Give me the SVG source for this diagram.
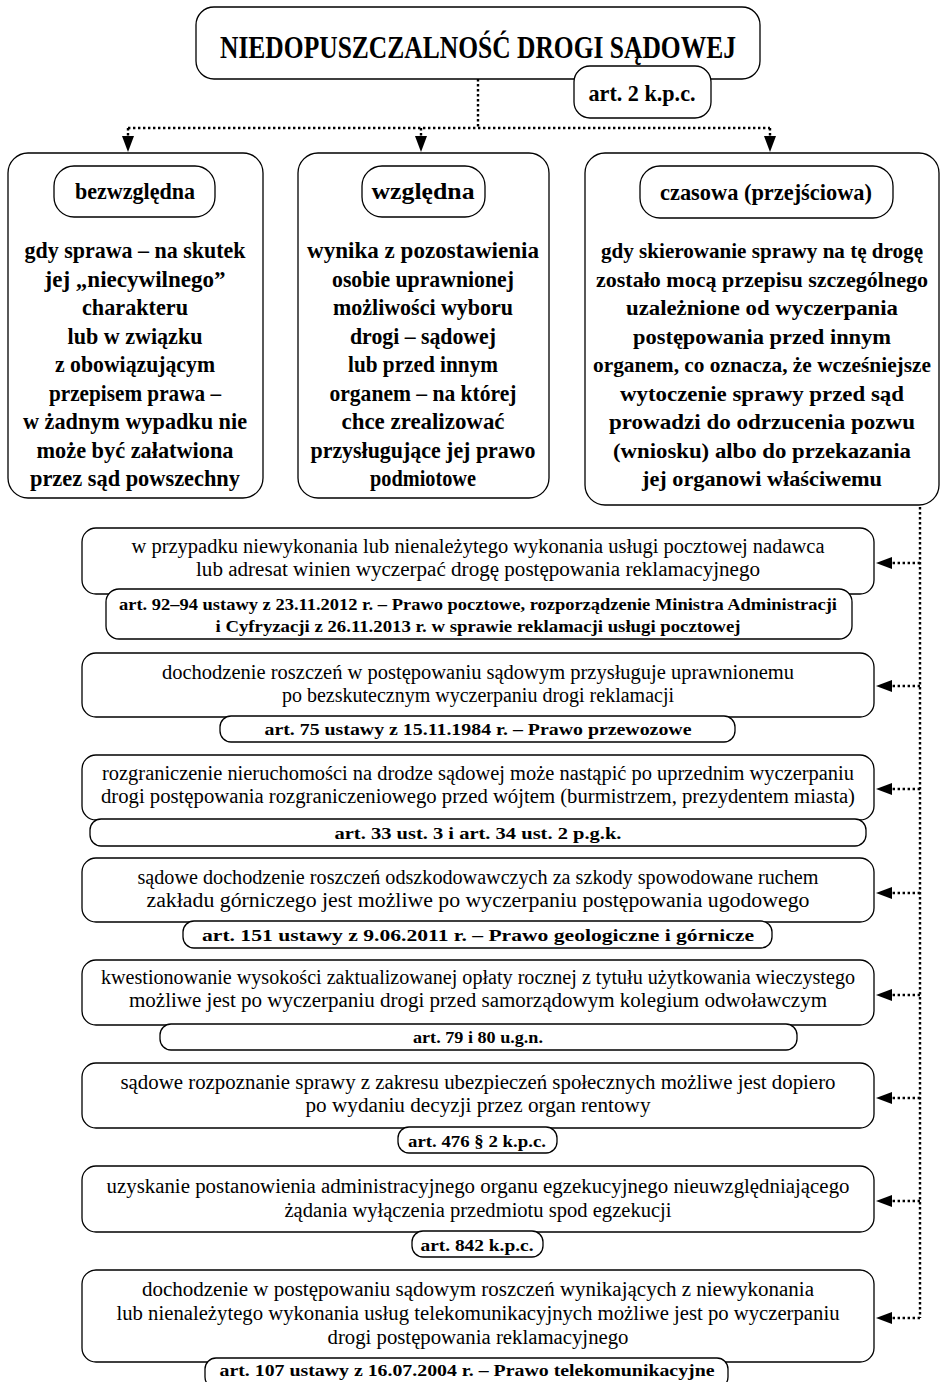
<svg xmlns="http://www.w3.org/2000/svg" width="942" height="1382" viewBox="0 0 942 1382">
<defs>
<style>
.box{fill:#fff;stroke:#000;stroke-width:1.3}
.dot{fill:none;stroke:#000;stroke-width:2.4;stroke-dasharray:2.4 2.6}
.t{font-family:"Liberation Serif",serif;fill:#000;text-anchor:middle}
.title{font-size:32px;font-weight:bold}
.h{font-size:23px;font-weight:bold}
.b{font-size:23px;font-weight:bold}
.bs{font-size:21px;font-weight:bold}
.n{font-size:20.5px}
.r{font-size:17.5px;font-weight:bold}
</style>
</defs>
<rect width="942" height="1382" fill="#fff"/>

<g id="connectors">
<path class="dot" d="M478,79 V128"/>
<path class="dot" d="M128,128 H770"/>
<path class="dot" d="M128,128 V136"/>
<path class="dot" d="M421,128 V136"/>
<path class="dot" d="M770,128 V136"/>
<path d="M122,136 L134,136 L128,152 Z"/>
<path d="M415,136 L427,136 L421,152 Z"/>
<path d="M764,136 L776,136 L770,152 Z"/>
<path class="dot" d="M920,507 V1318"/>
<path class="dot" d="M920,563 H892"/><path d="M892,557 L892,569 L876,563 Z"/>
<path class="dot" d="M920,686 H892"/><path d="M892,680 L892,692 L876,686 Z"/>
<path class="dot" d="M920,789 H892"/><path d="M892,783 L892,795 L876,789 Z"/>
<path class="dot" d="M920,893 H892"/><path d="M892,887 L892,899 L876,893 Z"/>
<path class="dot" d="M920,995 H892"/><path d="M892,989 L892,1001 L876,995 Z"/>
<path class="dot" d="M920,1098 H892"/><path d="M892,1092 L892,1104 L876,1098 Z"/>
<path class="dot" d="M920,1201 H892"/><path d="M892,1195 L892,1207 L876,1201 Z"/>
<path class="dot" d="M920,1318 H892"/><path d="M892,1312 L892,1324 L876,1318 Z"/>
</g>

<g id="title">
<rect class="box" x="196" y="7" width="564" height="72" rx="18"/>
<text class="t title" x="478" y="58" textLength="516" lengthAdjust="spacingAndGlyphs">NIEDOPUSZCZALNOŚĆ DROGI SĄDOWEJ</text>
</g>
<g id="art2">
<rect class="box" x="574" y="66" width="137" height="52" rx="16"/>
<text class="t h" x="642" y="101" textLength="107" lengthAdjust="spacingAndGlyphs">art. 2 k.p.c.</text>
</g>

<g id="bezwzgledna">
<rect class="box" x="8" y="153" width="255" height="345" rx="20"/>
<rect class="box" x="54" y="166" width="161" height="51" rx="20"/>
<text class="t h" x="135" y="199" textLength="120" lengthAdjust="spacingAndGlyphs">bezwzględna</text>
<text class="t b" x="135" y="258" textLength="221" lengthAdjust="spacingAndGlyphs">gdy sprawa – na skutek</text>
<text class="t b" x="135" y="286.5" textLength="181" lengthAdjust="spacingAndGlyphs">jej „niecywilnego”</text>
<text class="t b" x="135" y="315" textLength="106" lengthAdjust="spacingAndGlyphs">charakteru</text>
<text class="t b" x="135" y="343.5" textLength="135" lengthAdjust="spacingAndGlyphs">lub w związku</text>
<text class="t b" x="135" y="372" textLength="160" lengthAdjust="spacingAndGlyphs">z obowiązującym</text>
<text class="t b" x="135" y="400.5" textLength="172" lengthAdjust="spacingAndGlyphs">przepisem prawa –</text>
<text class="t b" x="135" y="429" textLength="224" lengthAdjust="spacingAndGlyphs">w żadnym wypadku nie</text>
<text class="t b" x="135" y="457.5" textLength="197" lengthAdjust="spacingAndGlyphs">może być załatwiona</text>
<text class="t b" x="135" y="486" textLength="210" lengthAdjust="spacingAndGlyphs">przez sąd powszechny</text>
</g>

<g id="wzgledna">
<rect class="box" x="298" y="153" width="251" height="345" rx="20"/>
<rect class="box" x="362" y="166" width="123" height="51" rx="20"/>
<text class="t h" x="423" y="199" textLength="103" lengthAdjust="spacingAndGlyphs">względna</text>
<text class="t b" x="423" y="258" textLength="232" lengthAdjust="spacingAndGlyphs">wynika z pozostawienia</text>
<text class="t b" x="423" y="286.5" textLength="182" lengthAdjust="spacingAndGlyphs">osobie uprawnionej</text>
<text class="t b" x="423" y="315" textLength="180" lengthAdjust="spacingAndGlyphs">możliwości wyboru</text>
<text class="t b" x="423" y="343.5" textLength="146" lengthAdjust="spacingAndGlyphs">drogi – sądowej</text>
<text class="t b" x="423" y="372" textLength="150" lengthAdjust="spacingAndGlyphs">lub przed innym</text>
<text class="t b" x="423" y="400.5" textLength="187" lengthAdjust="spacingAndGlyphs">organem – na której</text>
<text class="t b" x="423" y="429" textLength="163" lengthAdjust="spacingAndGlyphs">chce zrealizować</text>
<text class="t b" x="423" y="457.5" textLength="225" lengthAdjust="spacingAndGlyphs">przysługujące jej prawo</text>
<text class="t b" x="423" y="486" textLength="106" lengthAdjust="spacingAndGlyphs">podmiotowe</text>
</g>

<g id="czasowa">
<rect class="box" x="585" y="153" width="354" height="352" rx="20"/>
<rect class="box" x="640" y="166" width="253" height="52" rx="20"/>
<text class="t h" x="766" y="200" textLength="212" lengthAdjust="spacingAndGlyphs">czasowa (przejściowa)</text>
<text class="t bs" x="762" y="258" textLength="322" lengthAdjust="spacingAndGlyphs">gdy skierowanie sprawy na tę drogę</text>
<text class="t bs" x="762" y="286.5" textLength="332" lengthAdjust="spacingAndGlyphs">zostało mocą przepisu szczególnego</text>
<text class="t bs" x="762" y="315" textLength="272" lengthAdjust="spacingAndGlyphs">uzależnione od wyczerpania</text>
<text class="t bs" x="762" y="343.5" textLength="258" lengthAdjust="spacingAndGlyphs">postępowania przed innym</text>
<text class="t bs" x="762" y="372" textLength="338" lengthAdjust="spacingAndGlyphs">organem, co oznacza, że wcześniejsze</text>
<text class="t bs" x="762" y="400.5" textLength="284" lengthAdjust="spacingAndGlyphs">wytoczenie sprawy przed sąd</text>
<text class="t bs" x="762" y="429" textLength="306" lengthAdjust="spacingAndGlyphs">prowadzi do odrzucenia pozwu</text>
<text class="t bs" x="762" y="457.5" textLength="298" lengthAdjust="spacingAndGlyphs">(wniosku) albo do przekazania</text>
<text class="t bs" x="762" y="486" textLength="240" lengthAdjust="spacingAndGlyphs">jej organowi właściwemu</text>
</g>

<g id="c1">
<rect class="box" x="82" y="528" width="792" height="66" rx="14"/>
<text class="t n" x="478" y="553" textLength="693" lengthAdjust="spacingAndGlyphs">w przypadku niewykonania lub nienależytego wykonania usługi pocztowej nadawca</text>
<text class="t n" x="478" y="576" textLength="564" lengthAdjust="spacingAndGlyphs">lub adresat winien wyczerpać drogę postępowania reklamacyjnego</text>
<rect class="box" x="106" y="589" width="746" height="50" rx="13"/>
<text class="t r" x="478" y="610" textLength="718" lengthAdjust="spacingAndGlyphs">art. 92–94 ustawy z 23.11.2012 r. – Prawo pocztowe, rozporządzenie Ministra Administracji</text>
<text class="t r" x="478" y="632" textLength="525" lengthAdjust="spacingAndGlyphs">i Cyfryzacji z 26.11.2013 r. w sprawie reklamacji usługi pocztowej</text>
</g>

<g id="c2">
<rect class="box" x="82" y="653" width="792" height="64" rx="14"/>
<text class="t n" x="478" y="679" textLength="632" lengthAdjust="spacingAndGlyphs">dochodzenie roszczeń w postępowaniu sądowym przysługuje uprawnionemu</text>
<text class="t n" x="478" y="702" textLength="392" lengthAdjust="spacingAndGlyphs">po bezskutecznym wyczerpaniu drogi reklamacji</text>
<rect class="box" x="220" y="716" width="515" height="26" rx="11"/>
<text class="t r" x="478" y="735" textLength="427" lengthAdjust="spacingAndGlyphs">art. 75 ustawy z 15.11.1984 r. – Prawo przewozowe</text>
</g>

<g id="c3">
<rect class="box" x="82" y="755" width="792" height="65" rx="14"/>
<text class="t n" x="478" y="780" textLength="752" lengthAdjust="spacingAndGlyphs">rozgraniczenie nieruchomości na drodze sądowej może nastąpić po uprzednim wyczerpaniu</text>
<text class="t n" x="478" y="803" textLength="754" lengthAdjust="spacingAndGlyphs">drogi postępowania rozgraniczeniowego przed wójtem (burmistrzem, prezydentem miasta)</text>
<rect class="box" x="90" y="819" width="776" height="27" rx="11"/>
<text class="t r" x="478" y="839" textLength="287" lengthAdjust="spacingAndGlyphs">art. 33 ust. 3 i art. 34 ust. 2 p.g.k.</text>
</g>

<g id="c4">
<rect class="box" x="82" y="858" width="792" height="64" rx="14"/>
<text class="t n" x="478" y="884" textLength="681" lengthAdjust="spacingAndGlyphs">sądowe dochodzenie roszczeń odszkodowawczych za szkody spowodowane ruchem</text>
<text class="t n" x="478" y="907" textLength="663" lengthAdjust="spacingAndGlyphs">zakładu górniczego jest możliwe po wyczerpaniu postępowania ugodowego</text>
<rect class="box" x="183" y="921" width="589" height="27" rx="11"/>
<text class="t r" x="478" y="941" textLength="552" lengthAdjust="spacingAndGlyphs">art. 151 ustawy z 9.06.2011 r. – Prawo geologiczne i górnicze</text>
</g>

<g id="c5">
<rect class="box" x="82" y="960" width="792" height="65" rx="14"/>
<text class="t n" x="478" y="984" textLength="754" lengthAdjust="spacingAndGlyphs">kwestionowanie wysokości zaktualizowanej opłaty rocznej z tytułu użytkowania wieczystego</text>
<text class="t n" x="478" y="1007" textLength="698" lengthAdjust="spacingAndGlyphs">możliwe jest po wyczerpaniu drogi przed samorządowym kolegium odwoławczym</text>
<rect class="box" x="160" y="1024" width="637" height="26" rx="11"/>
<text class="t r" x="478" y="1043" textLength="130" lengthAdjust="spacingAndGlyphs">art. 79 i 80 u.g.n.</text>
</g>

<g id="c6">
<rect class="box" x="82" y="1063" width="792" height="65" rx="14"/>
<text class="t n" x="478" y="1089" textLength="715" lengthAdjust="spacingAndGlyphs">sądowe rozpoznanie sprawy z zakresu ubezpieczeń społecznych możliwe jest dopiero</text>
<text class="t n" x="478" y="1112" textLength="345" lengthAdjust="spacingAndGlyphs">po wydaniu decyzji przez organ rentowy</text>
<rect class="box" x="398" y="1127" width="159" height="26" rx="11"/>
<text class="t r" x="477" y="1147" textLength="138" lengthAdjust="spacingAndGlyphs">art. 476 § 2 k.p.c.</text>
</g>

<g id="c7">
<rect class="box" x="82" y="1166" width="792" height="66" rx="14"/>
<text class="t n" x="478" y="1193" textLength="743" lengthAdjust="spacingAndGlyphs">uzyskanie postanowienia administracyjnego organu egzekucyjnego nieuwzględniającego</text>
<text class="t n" x="478" y="1217" textLength="387" lengthAdjust="spacingAndGlyphs">żądania wyłączenia przedmiotu spod egzekucji</text>
<rect class="box" x="412" y="1231" width="131" height="26" rx="11"/>
<text class="t r" x="477" y="1251" textLength="113" lengthAdjust="spacingAndGlyphs">art. 842 k.p.c.</text>
</g>

<g id="c8">
<rect class="box" x="82" y="1270" width="792" height="92" rx="14"/>
<text class="t n" x="478" y="1296" textLength="672" lengthAdjust="spacingAndGlyphs">dochodzenie w postępowaniu sądowym roszczeń wynikających z niewykonania</text>
<text class="t n" x="478" y="1320" textLength="723" lengthAdjust="spacingAndGlyphs">lub nienależytego wykonania usług telekomunikacyjnych możliwe jest po wyczerpaniu</text>
<text class="t n" x="478" y="1344" textLength="301" lengthAdjust="spacingAndGlyphs">drogi postępowania reklamacyjnego</text>
<rect class="box" x="205" y="1358" width="523" height="30" rx="11"/>
<text class="t r" x="467" y="1376" textLength="495" lengthAdjust="spacingAndGlyphs">art. 107 ustawy z 16.07.2004 r. – Prawo telekomunikacyjne</text>
</g>
</svg>
